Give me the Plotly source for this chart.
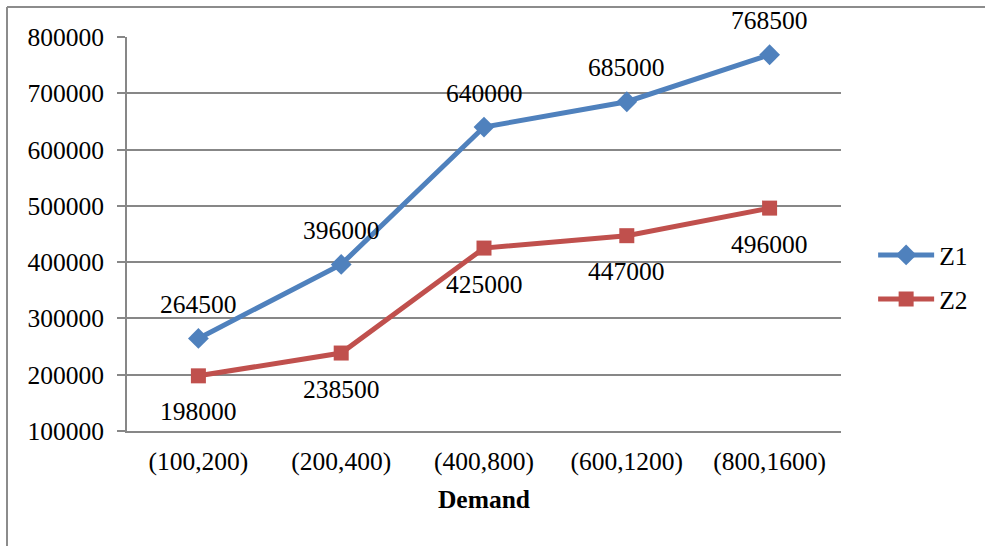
import plotly.graph_objects as go

categories = ["(100,200)", "(200,400)", "(400,800)", "(600,1200)", "(800,1600)"]
z1 = [264500, 396000, 640000, 685000, 768500]
z2 = [198000, 238500, 425000, 447000, 496000]
y_ticks = [100000, 200000, 300000, 400000, 500000, 600000, 700000, 800000]

FONT = "Times New Roman, Liberation Serif, serif"
FS = 25.5
BLUE = "#4F81BD"
RED = "#C0504D"
GRID = "#878787"

fig = go.Figure()
fig.add_trace(go.Scatter(
    x=list(range(len(categories))), y=z1, name="Z1", mode="lines+markers",
    legendgroup="a",
    line=dict(color=BLUE, width=5),
    marker=dict(symbol="diamond", size=16, color=BLUE),
))
fig.add_trace(go.Scatter(
    x=list(range(len(categories))), y=z2, name="Z2", mode="lines+markers",
    legendgroup="b",
    line=dict(color=RED, width=5),
    marker=dict(symbol="square", size=15, color=RED),
))

annotations = []
for i, v in enumerate(z1):
    annotations.append(dict(x=i, y=v, xref="x", yref="y", text=str(v), showarrow=False,
                            yshift=34, font=dict(family=FONT, size=FS, color="black")))
for i, v in enumerate(z2):
    annotations.append(dict(x=i, y=v, xref="x", yref="y", text=str(v), showarrow=False,
                            yshift=-36, font=dict(family=FONT, size=FS, color="black")))

x_left = (7 - 127) / 714
x_right = (985 - 127) / 714
y_top = 1 + (37 - 7) / 394
y_bot = (431 - 546) / 394
fig.update_layout(
    width=985, height=546,
    margin=dict(l=127, r=144, t=37, b=115),
    paper_bgcolor="white", plot_bgcolor="white",
    font=dict(family=FONT, size=FS, color="black"),
    showlegend=True,
    legend=dict(x=1.045, y=0.39, xanchor="left", yanchor="middle",
                font=dict(family=FONT, size=FS, color="black"),
                itemwidth=56, traceorder="grouped", tracegroupgap=8,
                bgcolor="rgba(0,0,0,0)"),
    annotations=annotations,
    shapes=[
        dict(type="line", xref="paper", yref="paper", x0=x_left, x1=x_left, y0=y_bot, y1=y_top,
             line=dict(color="#8c8c8c", width=2), layer="below"),
        dict(type="line", xref="paper", yref="paper", x0=x_left, x1=x_right, y0=y_top, y1=y_top,
             line=dict(color="#8c8c8c", width=2), layer="below"),
    ],
)
fig.update_xaxes(
    tickvals=list(range(len(categories))), ticktext=categories,
    range=[-0.5, len(categories) - 0.5],
    showgrid=False, showline=True, linecolor=GRID, linewidth=2,
    ticks="", ticklabelstandoff=6,
    tickfont=dict(family=FONT, size=FS, color="black"),
    title=dict(text="<b>Demand</b>", font=dict(family=FONT, size=FS, color="black"), standoff=16),
    zeroline=False,
)
fig.update_yaxes(
    range=[100000, 800000], tickvals=y_ticks, ticktext=[str(t) for t in y_ticks],
    showgrid=True, gridcolor=GRID, gridwidth=2,
    showline=True, linecolor=GRID, linewidth=2,
    ticks="outside", ticklen=8, tickcolor=GRID, tickwidth=2, ticklabelstandoff=8,
    tickfont=dict(family=FONT, size=FS, color="black"),
    zeroline=False,
)

fig.write_html("out.html", config={"displayModeBar": False})
